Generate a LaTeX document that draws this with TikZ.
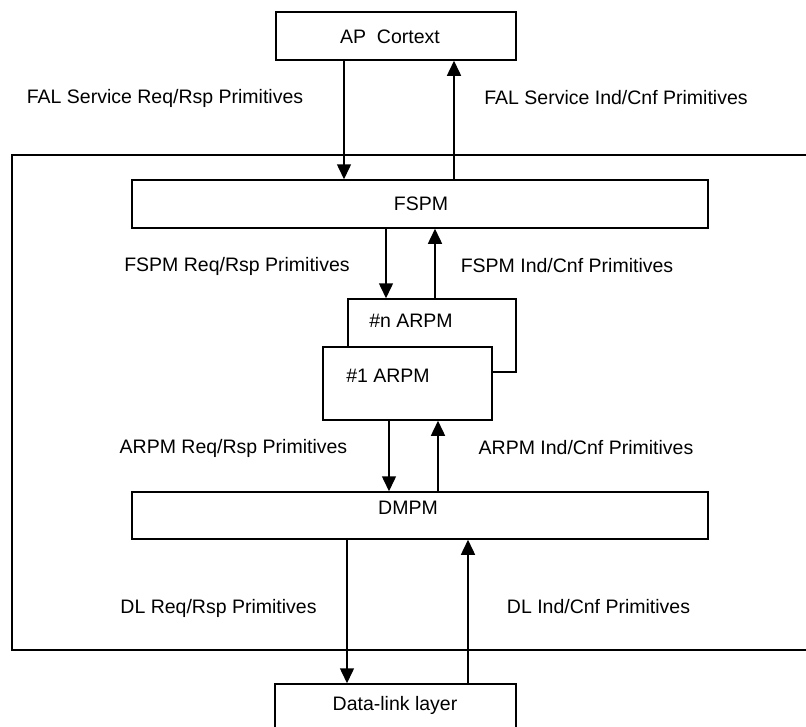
\documentclass[tikz,border=0pt]{standalone}
\usepackage{fontspec}
\setmainfont{Liberation Sans}
\usetikzlibrary{arrows.meta}
\tikzset{
  box/.style={draw, line width=1.5pt, rectangle, inner sep=0pt, fill=white},
  lbl/.style={inner sep=0pt, font=\fontsize{19.5pt}{22pt}\selectfont},
  arr/.style={line width=1.5pt, -{Triangle[width=14pt,length=15pt]}},
}
\begin{document}
\begin{tikzpicture}[x=1pt,y=-1pt]
\useasboundingbox (0,0) rectangle (806,726);
\clip (0,0) rectangle (806,726);
% outer frame
\node[box, fill=none, minimum width=800pt, minimum height=495pt] (frame) at (412,402.5) {};
% boxes
\node[box, minimum width=240pt, minimum height=48pt] (ap) at (396,36) {};
\node[lbl] (aptxt) at (390,37) {AP\ \ Cortext};
\node[box, minimum width=576pt, minimum height=48pt] (fspm) at (420,204) {};
\node[lbl] (fspmtxt) at (421,204) {FSPM};
\node[box, minimum width=168pt, minimum height=73pt] (arpmn) at (432,335.5) {};
\node[lbl] (arpmntxt) at (411,321) {\#n ARPM};
\node[box, minimum width=169pt, minimum height=73pt] (arpm1) at (407.5,383.5) {};
\node[lbl] (arpm1txt) at (388,376) {\#1 ARPM};
\node[box, minimum width=576pt, minimum height=47pt] (dmpm) at (420,515.5) {};
\node[lbl] (dmpmtxt) at (408,508) {DMPM};
\node[box, minimum width=241pt, minimum height=52pt] (dl) at (395.5,710) {};
\node[lbl] (dltxt) at (395,705) {Data-link layer};
% arrow x positions
\coordinate (a1) at (344,0);
\coordinate (a2) at (454,0);
\coordinate (b1) at (386,0);
\coordinate (b2) at (435,0);
\coordinate (c1) at (389,0);
\coordinate (c2) at (438,0);
\coordinate (d1) at (347,0);
\coordinate (d2) at (468,0);
% arrows
\draw[arr] (ap.south -| a1) -- (fspm.north -| a1);
\draw[arr] (fspm.north -| a2) -- (ap.south -| a2);
\draw[arr] (fspm.south -| b1) -- (arpmn.north -| b1);
\draw[arr] (arpmn.north -| b2) -- (fspm.south -| b2);
\draw[arr] (arpm1.south -| c1) -- (dmpm.north -| c1);
\draw[arr] (dmpm.north -| c2) -- (arpm1.south -| c2);
\draw[arr] (dmpm.south -| d1) -- (dl.north -| d1);
\draw[arr] (dl.north -| d2) -- (dmpm.south -| d2);
% labels
\node[lbl] (l1) at (165,98) {FAL Service Req/Rsp Primitives};
\node[lbl] (l2) at (616,98) {FAL Service Ind/Cnf Primitives};
\node[lbl] (l3) at (237,266) {FSPM Req/Rsp Primitives};
\node[lbl] (l4) at (567,266) {FSPM Ind/Cnf Primitives};
\node[lbl] (l5) at (233.5,448) {ARPM Req/Rsp Primitives};
\node[lbl] (l6) at (586,448) {ARPM Ind/Cnf Primitives};
\node[lbl] (l7) at (218.5,608) {DL Req/Rsp Primitives};
\node[lbl] (l8) at (598.5,607) {DL Ind/Cnf Primitives};
\end{tikzpicture}
\end{document}
